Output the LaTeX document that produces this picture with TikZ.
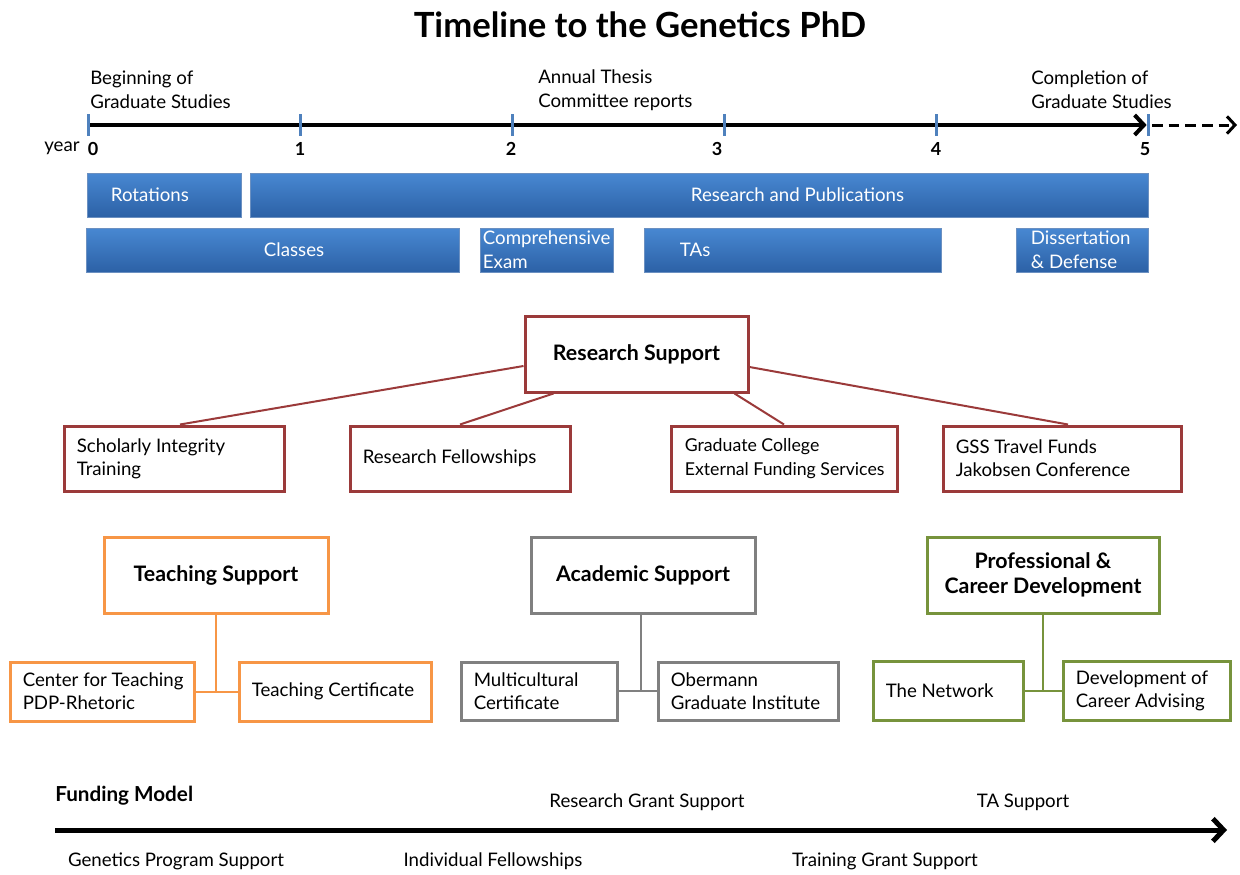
\documentclass[tikz,border=0pt]{standalone}
\usepackage{fontspec}
\setmainfont{Lato}
\usetikzlibrary{arrows.meta,calc}
\definecolor{barT}{RGB}{72,136,210}
\definecolor{barB}{RGB}{44,97,166}
\definecolor{tickc}{RGB}{79,129,189}
\definecolor{rsred}{RGB}{155,58,58}
\definecolor{tsor}{RGB}{247,150,70}
\definecolor{asgr}{RGB}{128,128,128}
\definecolor{pcgr}{RGB}{119,147,60}
\begin{document}
\begin{tikzpicture}[x=0.75pt,y=-0.75pt,font=\fontsize{14}{18}\selectfont,
  bar/.style={draw=barB!70!white, line width=0.5pt, top color=barT, bottom color=barB, minimum height=33pt, inner sep=0pt},
  btxt/.style={text=white, anchor=west, align=left, inner sep=0pt, font=\fontsize{14}{18}\selectfont},
  lt/.style={anchor=west, align=left, inner sep=0pt, font=\fontsize{14}{17.5}\selectfont},
  box/.style={draw, line width=2.25pt, fill=white, inner sep=0pt},
  rsb/.style={box, draw=rsred},
  tsb/.style={box, draw=tsor},
  asb/.style={box, draw=asgr},
  pcb/.style={box, draw=pcgr},
  hd/.style={font=\bfseries\fontsize{16}{18.5}\selectfont, align=center},
  conn/.style={line width=1.5pt},
  tk/.style={draw=tickc, line width=2.25pt},
  plain/.style={inner sep=0pt, align=left},
  yr/.style={inner sep=0pt, font=\bfseries\fontsize{13.5}{16}\selectfont}
]
\useasboundingbox[fill=white] (0,0) rectangle (1240,875);

% title
\node[font=\bfseries\fontsize{26}{30}\selectfont] (title) at (640,25) {Timeline to the Genetics PhD};

% timeline
\coordinate (t0) at (88,125);
\coordinate (t1) at (300,125);
\coordinate (t2) at (512,125);
\coordinate (t3) at (724,125);
\coordinate (t4) at (936,125);
\coordinate (t5) at (1148,125);
\coordinate (tend) at (1237,125);
\draw[line width=3pt, -{Straight Barb[length=7pt,width=15pt]}] (t0) -- ([xshift=-1pt]t5);
\draw[line width=2.25pt, dash pattern=on 8pt off 4.5pt, -{Straight Barb[length=6pt,width=13pt]}] ([xshift=3pt]t5) -- (tend);
\foreach \t in {t0,t1,t2,t3,t4,t5}{
  \draw[tk] ([yshift=8.25pt]\t) -- ([yshift=-8.25pt]\t);
}
\node[plain, anchor=west, font=\fontsize{14}{18}\selectfont] (beg) at (90,90) {Beginning of\\Graduate Studies};
\node[plain, anchor=west, font=\fontsize{14}{18}\selectfont] (ann) at (538,90) {Annual Thesis\\Committee reports};
\node[plain, anchor=west, font=\fontsize{14}{18}\selectfont] (comp) at (1031,90) {Completion of\\Graduate Studies};
\node[plain] (year) at (62,148) {year};
\node[yr] (y0) at (93,149) {0};
\node[yr] (y1) at (300,149) {1};
\node[yr] (y2) at (511,149) {2};
\node[yr] (y3) at (717,149) {3};
\node[yr] (y4) at (936,149) {4};
\node[yr] (y5) at (1145,149) {5};

% bars
\node[bar, minimum width=115.5pt, label={[btxt,xshift=18pt]west:Rotations}] (rot) at (164,195) {};
\node[bar, minimum width=673.5pt, label={[btxt,xshift=330.75pt]west:Research and Publications}] (rp) at (699,195) {};
\node[bar, minimum width=279.75pt, label={[btxt,xshift=133.5pt]west:Classes}] (cls) at (272.5,250) {};
\node[bar, minimum width=99.75pt, label={[btxt,xshift=2.25pt]west:Comprehensive\\Exam}] (ce) at (546.5,250) {};
\node[bar, minimum width=222.75pt, label={[btxt,xshift=27pt]west:TAs}] (tas) at (792.5,250) {};
\node[bar, minimum width=99pt, label={[btxt,xshift=11.25pt]west:Dissertation\\\&~Defense}] (dd) at (1082,250) {};

% research support
\node[rsb, hd, minimum width=167.25pt, minimum height=57pt] (rs) at (636.5,354) {Research Support};
\node[rsb, minimum width=165pt, minimum height=48.75pt, label={[lt,xshift=10.5pt]west:Scholarly Integrity\\Training}] (si) at (174,458.5) {};
\node[rsb, minimum width=165pt, minimum height=48.75pt, label={[lt,xshift=10.5pt]west:Research Fellowships}] (rf) at (460,458.5) {};
\node[rsb, minimum width=169.5pt, minimum height=48.75pt, label={[lt,xshift=11.25pt,font=\fontsize{13.3}{17.5}\selectfont]west:Graduate College\\External Funding Services}] (gc) at (784,458.5) {};
\node[rsb, minimum width=178.5pt, minimum height=48.75pt, label={[lt,xshift=10.5pt]west:GSS Travel Funds\\Jakobsen Conference}] (gss) at (1062,458.5) {};
\draw[conn, draw=rsred] ([yshift=-9pt]rs.west) -- ([xshift=4.5pt]si.north);
\draw[conn, draw=rsred] ([xshift=22.5pt]rs.south west) -- (rf.north);
\draw[conn, draw=rsred] ([xshift=-11.25pt]rs.south east) -- (gc.north);
\draw[conn, draw=rsred] ([yshift=-9.75pt]rs.east) -- ([xshift=4.5pt]gss.north);

% teaching support
\node[tsb, hd, minimum width=168pt, minimum height=57pt] (ts) at (216,575) {Teaching Support};
\node[tsb, minimum width=138pt, minimum height=44.25pt, label={[lt,xshift=10.5pt]west:Center for Teaching\\PDP-Rhetoric}] (ct) at (102,691.5) {};
\node[tsb, minimum width=144pt, minimum height=44.25pt, label={[lt,xshift=10.5pt]west:Teaching Certificate}] (tc) at (335,691.5) {};
\draw[conn, draw=tsor] (ts.south) -- (ts.south |- ct.east);
\draw[conn, draw=tsor] (ct.east) -- (tc.west);

% academic support
\node[asb, hd, minimum width=168pt, minimum height=57pt] (as) at (643,575) {Academic Support};
\node[asb, minimum width=117pt, minimum height=43.5pt, label={[lt,xshift=10.5pt]west:Multicultural\\Certificate}] (mc) at (539,691) {};
\node[asb, minimum width=135pt, minimum height=43.5pt, label={[lt,xshift=10.5pt]west:Obermann\\Graduate Institute}] (ob) at (748,691) {};
\draw[conn, draw=asgr] ([xshift=-1.5pt]as.south) -- ([xshift=-1.5pt]as.south |- mc.east);
\draw[conn, draw=asgr] (mc.east) -- (ob.west);

% professional & career development
\node[pcb, hd, minimum width=174pt, minimum height=57pt] (pc) at (1043,575) {Professional \&\\Career Development};
\node[pcb, minimum width=112.5pt, minimum height=44.25pt, label={[lt,xshift=10.5pt]west:The Network}] (tn) at (948,690.5) {};
\node[pcb, minimum width=125.25pt, minimum height=44.25pt, label={[lt,xshift=10.5pt]west:Development of\\Career Advising}] (dc) at (1146.5,690.5) {};
\draw[conn, draw=pcgr] (pc.south) -- (pc.south |- tn.east);
\draw[conn, draw=pcgr] (tn.east) -- (dc.west);

% funding model
\coordinate (f0) at (55,830);
\coordinate (f1) at (1227,830);
\draw[line width=3.75pt, -{Straight Barb[length=8pt,width=17pt]}] (f0) -- (f1);
\node[plain, anchor=west, font=\bfseries\fontsize{15.5}{18}\selectfont] (fm) at (55,796) {Funding Model};
\node[plain] (rgs) at (647,802) {Research Grant Support};
\node[plain] (tas2) at (1023,802) {TA Support};
\node[plain] (gps) at (176,861) {Genetics Program Support};
\node[plain] (ifs) at (493,861) {Individual Fellowships};
\node[plain] (tgs) at (885,861) {Training Grant Support};
\end{tikzpicture}
\end{document}
